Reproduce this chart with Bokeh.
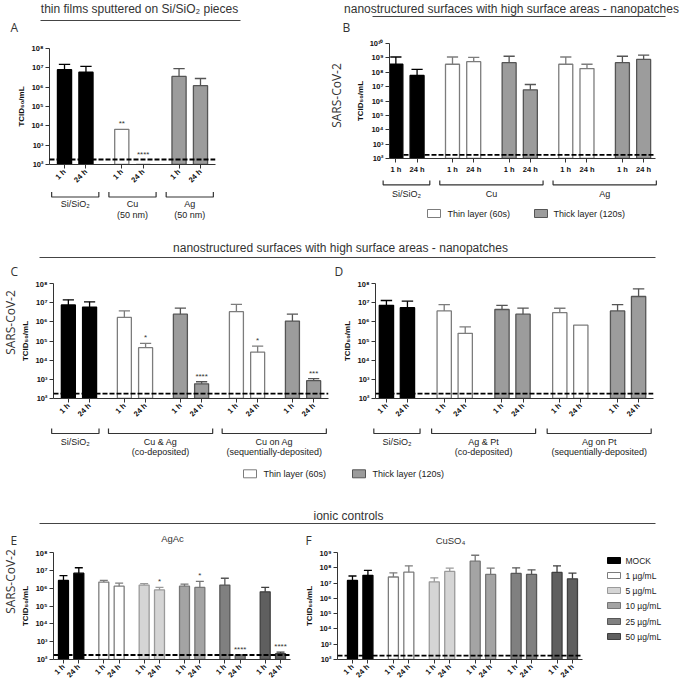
import math
from bokeh.plotting import figure
from bokeh.models import Range1d, FixedTicker, CustomJSTickFormatter, Span, ColumnDataSource
from bokeh.layouts import column, row
from bokeh.core.properties import value
from bokeh.embed import file_html
from bokeh.resources import INLINE

FONT = "Liberation Sans"
LFONT = "Open Sans"
NAN = float("nan")

TIME_LABELS = ["1 h", "24 h"]
DETECTION_LIMIT = 1.8e2

# ---------------- data ----------------
HEAD_A = "thin films sputtered on Si/SiO₂ pieces"
HEAD_NANO = "nanostructured surfaces with high surface areas - nanopatches"
HEAD_ION = "ionic controls"
Y_LABEL = "TCID₅₀/mL"
VIRUS = "SARS-CoV-2"

A_groups = ["Si/SiO₂", "Cu\n(50 nm)", "Ag\n(50 nm)"]
A_pairs = [["mock"], ["thin"], ["thick"]]
A_mean = [8.0e6, 5.9e6, 6.6e3, 1.0e2, 3.6e6, 1.2e6]
A_upper = [1.5e7, 1.2e7, NAN, NAN, 9.0e6, 2.8e6]
A_stars = ["", "", "**", "****", "", ""]

B_groups = ["Si/SiO₂", "Cu", "Ag"]
B_pairs = [["mock"], ["thin", "thick"], ["thin", "thick"]]
B_mean = [3.6e8, 6.0e7, 3.6e8, 5.4e8, 4.6e8, 6.0e6, 3.6e8, 1.8e8, 4.6e8, 7.8e8]
B_upper = [1.15e9, 1.6e8, 1.15e9, 1.1e9, 1.3e9, 1.4e7, 1.15e9, 3.6e8, 1.3e9, 1.55e9]
B_stars = ["", "", "", "", "", "", "", "", "", ""]

C_groups = ["Si/SiO₂", "Cu & Ag\n(co-deposited)", "Cu on Ag\n(sequentially-deposited)"]
C_pairs = [["mock"], ["thin", "thick"], ["thin", "thick"]]
C_mean = [7.6e6, 5.9e6, 1.7e6, 4.5e4, 2.5e6, 5.8e2, 3.4e6, 2.6e4, 1.1e6, 8.5e2]
C_upper = [1.4e7, 1.1e7, 3.7e6, 7.5e4, 5.2e6, 7.5e2, 8.2e6, 5.4e4, 2.5e6, 1.1e3]
C_stars = ["", "", "", "*", "", "****", "", "*", "", "***"]

D_groups = ["Si/SiO₂", "Ag & Pt\n(co-deposited)", "Ag on Pt\n(sequentially-deposited)"]
D_pairs = [["mock"], ["thin", "thick"], ["thin", "thick"]]
D_mean = [7.3e6, 5.5e6, 3.7e6, 2.5e5, 4.4e6, 2.5e6, 3.0e6, 6.7e5, 3.7e6, 2.1e7]
D_upper = [1.3e7, 1.2e7, 7.9e6, 5.4e5, 7.3e6, 5.2e6, 5.1e6, NAN, 7.9e6, 5.3e7]
D_stars = ["", "", "", "", "", "", "", "", "", ""]

ION_KINDS = ["mock", "c1", "c5", "c10", "c25", "c50"]
ION_LABELS = ["MOCK", "1 µg/mL", "5 µg/mL", "10 µg/mL", "25 µg/mL", "50 µg/mL"]

E_title = "AgAc"
E_mean = [2.7e6, 6.9e6, 2.2e6, 1.3e6, 1.5e6, 8.0e5, 1.3e6, 1.1e6, 1.5e6, 1.8e2, 6.2e5, 2.1e2]
E_upper = [5.1e6, 1.4e7, 2.7e6, 1.9e6, 1.8e6, 1.1e6, 1.7e6, 2.4e6, 3.6e6, NAN, 1.1e6, 2.6e2]
E_stars = ["", "", "", "", "", "*", "", "*", "", "****", "", "****"]

F_title = "CuSO₄"
F_mean = [1.5e7, 3.2e7, 2.5e7, 5.2e7, 1.2e7, 5.8e7, 2.7e8, 3.7e7, 4.3e7, 3.7e7, 5.0e7, 1.9e7]
F_upper = [2.9e7, 6.7e7, 4.7e7, 1.35e8, 2.2e7, 9.5e7, 6.6e8, 9.5e7, 1.0e8, 7.4e7, 1.35e8, 4.5e7]
F_stars = ["", "", "", "", "", "", "", "", "", "", "", ""]

NANO_LEGEND = ["Thin layer (60s)", "Thick layer (120s)"]

# ---------------- styles ----------------
STYLE = {
    "mock": ("#000000", "#000000"),
    "thin": ("#ffffff", "#7c7c7c"),
    "thick": ("#9c9c9c", "#555555"),
    "c1": ("#ffffff", "#7c7c7c"),
    "c5": ("#d5d5d5", "#9a9a9a"),
    "c10": ("#a4a4a4", "#767676"),
    "c25": ("#808080", "#575757"),
    "c50": ("#5f5f5f", "#3f3f3f"),
}
AX = "#333333"
TXT = "#222222"

SUP = """
const s = {"0":"\u2070","1":"\u00b9","2":"\u00b2","3":"\u00b3","4":"\u2074","5":"\u2075","6":"\u2076","7":"\u2077","8":"\u2078","9":"\u2079"};
const e = Math.round(Math.log10(tick));
return "10" + String(e).split("").map(c => s[c]).join("");
"""


def text(p, xs, ys, texts, size, align="center", font=FONT, color=TXT, baseline="middle",
         style="normal", angle=0.0, x_range_name=None):
    kw = {}
    if x_range_name:
        kw["x_range_name"] = x_range_name
    p.text(x=xs, y=ys, text=texts, text_font=value(font), text_font_size=value(f"{size}px"),
           text_align=align, text_baseline=baseline, text_color=color, text_font_style=style,
           angle=angle, **kw)


def deco(W, H, x_range=None, flip=True):
    p = figure(width=W, height=H, x_range=x_range if x_range is not None else Range1d(0, W),
               y_range=Range1d(H, 0) if flip else Range1d(0, H), output_backend="svg",
               toolbar_location=None, x_axis_location=None, y_axis_location=None, min_border=0)
    p.min_border_left = 0
    p.min_border_right = 0
    p.min_border_top = 0
    p.min_border_bottom = 0
    p.outline_line_color = None
    p.grid.visible = False
    return p


def virus_label(W, H, cx, cy_from_top):
    p = deco(W, H, flip=False)
    text(p, [cx], [H - cy_from_top], [VIRUS], 12, font=LFONT, color="#333333", angle=math.pi / 2)
    return p


def make_main(W, H, fl, fr, ft, fb, P, Lu, Ru, ymax_exp, pair_kinds, means, uppers, stars,
              bw, rotate):
    xs, kinds = [], []
    for i, k in enumerate(pair_kinds):
        for t in range(2):
            xs.append(i * P + t)
            kinds.append(k)
    x0, x1 = xs[0] - Lu, xs[-1] + Ru
    p = figure(width=W, height=H, x_range=Range1d(x0, x1), y_range=Range1d(1e2, 10.0 ** ymax_exp),
               y_axis_type="log", output_backend="svg", toolbar_location=None,
               min_border_left=fl, min_border_right=fr, min_border_top=ft, min_border_bottom=fb)
    p.outline_line_color = None
    p.grid.visible = False
    fills = [STYLE[k][0] for k in kinds]
    lines = [STYLE[k][1] for k in kinds]
    src = ColumnDataSource(dict(x=xs, top=means, fill=fills, line=lines))
    p.vbar(x="x", top="top", bottom=1e2, width=bw, fill_color="fill", line_color="line",
           line_width=1.3, source=src)
    ex, et, eu, el, er, ec = [], [], [], [], [], []
    for x, m, u, c in zip(xs, means, uppers, lines):
        if u == u:
            ex.append(x); et.append(m); eu.append(u)
            el.append(x - 0.4 * bw); er.append(x + 0.4 * bw); ec.append(c)
    esrc = ColumnDataSource(dict(x=ex, top=et, up=eu, xl=el, xr=er, c=ec))
    p.segment(x0="x", y0="top", x1="x", y1="up", line_color="c", line_width=1.3, source=esrc)
    p.segment(x0="xl", y0="up", x1="xr", y1="up", line_color="c", line_width=1.3, source=esrc)
    sx, sy, st = [], [], []
    for x, m, u, s in zip(xs, means, uppers, stars):
        if s:
            sx.append(x)
            sy.append(max(m, u if u == u else m, DETECTION_LIMIT))
            st.append(s)
    if st:
        p.text(x=sx, y=sy, text=st, text_align="center", text_baseline="bottom", y_offset=-1,
               text_font=value(FONT), text_font_size=value("8px"), text_color="#333333")
    p.add_layout(Span(location=DETECTION_LIMIT, dimension="width", line_color="black",
                      line_dash="5 2", line_width=1.9))

    xa = p.xaxis[0]
    ya = p.yaxis[0]
    xa.ticker = FixedTicker(ticks=xs)
    xa.formatter = CustomJSTickFormatter(args=dict(labels=[TIME_LABELS[i % 2] for i in range(len(xs))]),
                                         code="return labels[index];")
    xa.major_label_orientation = math.pi / 4 if rotate else "horizontal"
    ya.ticker = FixedTicker(ticks=[10.0 ** k for k in range(2, ymax_exp + 1)])
    ya.formatter = CustomJSTickFormatter(code=SUP)
    for ax in (xa, ya):
        ax.axis_line_color = AX
        ax.axis_line_width = 1
        ax.major_tick_line_color = AX
        ax.major_tick_out = 4
        ax.major_tick_in = 0
        ax.minor_tick_line_color = None
        ax.major_label_text_font = FONT
        ax.major_label_text_font_style = "bold"
        ax.major_label_text_font_size = "7.5px"
        ax.major_label_text_color = "#111111"
        ax.major_label_standoff = 2
    ya.axis_label = Y_LABEL
    ya.axis_label_text_font = FONT
    ya.axis_label_text_font_style = "bold"
    ya.axis_label_text_font_size = "8px"
    ya.axis_label_text_color = "#111111"
    ya.axis_label_standoff = 2

    fw = W - fl - fr
    return dict(p=p, xs=xs, xr=(x0, x1), fw=fw)


def make_brackets(m, W, fl, H, group_pairs, group_names, y_end, y_line, y_l1, y_l2):
    x0, x1 = m["xr"]
    upp = (x1 - x0) / m["fw"]
    r0 = x0 - fl * upp
    r1 = r0 + W * upp
    p = deco(W, H, Range1d(r0, r1))
    p.extra_x_ranges = {"px": Range1d(0, W)}
    xs = m["xs"]
    idx = 0
    bx, by, lx, ly, lt = [], [], [], [], []
    for pairs, name in zip(group_pairs, group_names):
        n = 2 * len(pairs)
        a = xs[idx] - 0.6
        b = xs[idx + n - 1] + 0.6
        idx += n
        bx.append([a, a, b, b])
        by.append([y_end, y_line, y_line, y_end])
        for j, line in enumerate(name.split("\n")):
            lx.append((a + b) / 2)
            ly.append(y_l1 if j == 0 else y_l2)
            lt.append(line)
    p.multi_line(xs=bx, ys=by, line_color=AX, line_width=1.2)
    text(p, lx, ly, lt, 9)
    return p


def legend_items(p, box_x, ys, kinds, labels, text_x, size=9, bw=13, bh=8):
    p.rect(x=[box_x + bw / 2] * len(kinds), y=ys, width=bw, height=bh,
           fill_color=[STYLE[k][0] for k in kinds], line_color=[STYLE[k][1] for k in kinds],
           line_width=1, x_range_name="px")
    text(p, [text_x] * len(labels), ys, labels, size, align="left", x_range_name="px")


def solo(p):
    return column(p)


# ---------------- band 1 : A and B ----------------
h1 = deco(685, 36)
text(h1, [139], [8], [HEAD_A], 12, color="#333333")
text(h1, [511], [8], [HEAD_NANO], 12, color="#333333")
h1.segment(x0=[40, 372], y0=[20, 16], x1=[240, 665], y1=[20, 16], line_color="#444444", line_width=1)
text(h1, [10, 342], [27, 27], ["A", "B"], 12, align="left", font=LFONT, color="#333333")

mA = make_main(328, 154, 49, 113, 12, 26, 2.67, 0.7, 0.7, 8, sum(A_pairs, []),
               A_mean, A_upper, A_stars, 0.66, True)
bA = make_brackets(mA, 328, 49, 50, A_pairs, A_groups, 1.5, 6.5, 13, 24)

vB = virus_label(16, 142, 8, 59)
mB = make_main(341, 142, 45, 30, 7, 20, 2.67, 0.3, 0.56, 10, sum(B_pairs, []),
               B_mean, B_upper, B_stars, 0.66, False)
bB = make_brackets(mB, 357, 61, 62, B_pairs, B_groups, 2, 6.3, 15.3, 25)
legend_items(bB, 99, [35], ["thin"], [NANO_LEGEND[0]], 119)
legend_items(bB, 206, [35], ["thick"], [NANO_LEGEND[1]], 225)

band1 = column(solo(h1), row(column(solo(mA["p"]), solo(bA)),
                             column(row(solo(vB), solo(mB["p"])), solo(bB))))

# ---------------- band 2 : C and D ----------------
h2 = deco(685, 39)
text(h2, [340], [7], [HEAD_NANO], 12, color="#333333")
h2.segment(x0=[39], y0=[17], x1=[655], y1=[17], line_color="#444444", line_width=1)
text(h2, [10, 334], [30.5, 30.5], ["C", "D"], 12, align="left", font=LFONT, color="#333333")

vC = virus_label(18, 145, 10, 43)
mC = make_main(316, 145, 31, 6, 4, 26, 2.64, 0.7, 0.7, 8, sum(C_pairs, []),
               C_mean, C_upper, C_stars, 0.66, True)
bC = make_brackets(mC, 334, 49, 76, C_pairs, C_groups, 4, 9, 17.7, 27.7)
legend_items(bC, 243, [49.3], ["thin"], [NANO_LEGEND[0]], 263)

mD = make_main(351, 145, 41, 32, 4, 26, 2.75, 0.52, 0.71, 8, sum(D_pairs, []),
               D_mean, D_upper, D_stars, 0.68, True)
bD = make_brackets(mD, 351, 41, 76, D_pairs, D_groups, 4, 9, 17.7, 27.7)
legend_items(bD, 18, [49.3], ["thick"], [NANO_LEGEND[1]], 38)

band2 = column(solo(h2), row(column(row(solo(vC), solo(mC["p"])), solo(bC)),
                             column(solo(mD["p"]), solo(bD))))

# ---------------- band 3 : E and F ----------------
h3 = deco(685, 48)
text(h3, [348], [15], [HEAD_ION], 12, color="#333333")
h3.segment(x0=[39], y0=[23], x1=[655], y1=[23], line_color="#444444", line_width=1)
text(h3, [10, 305], [39.5, 39.5], ["E", "F"], 12, align="left", font=LFONT, color="#333333")
text(h3, [172, 450], [38, 40], [E_title, F_title], 9.5, color="#333333")

vE = virus_label(18, 137, 10, 33)
mE = make_main(280, 137, 32, 8, 4, 26, 2.63, 0.65, 0.65, 8, ION_KINDS,
               E_mean, E_upper, E_stars, 0.65, True)
mF = make_main(302, 137, 39, 18, 4, 26, 2.65, 0.97, 0.65, 9, ION_KINDS,
               F_mean, F_upper, F_stars, 0.65, True)
lF = deco(85, 137)
lF.extra_x_ranges = {"px": Range1d(0, 85)}
legend_items(lF, 7, [12, 27, 42, 57, 73, 88], ION_KINDS, ION_LABELS, 25, size=8.5, bw=13, bh=6)

band3 = column(solo(h3), row(solo(vE), solo(mE["p"]), solo(mF["p"]), solo(lF)))

layout = column(band1, band2, band3)
open("out.html", "w").write(file_html(layout, INLINE))
